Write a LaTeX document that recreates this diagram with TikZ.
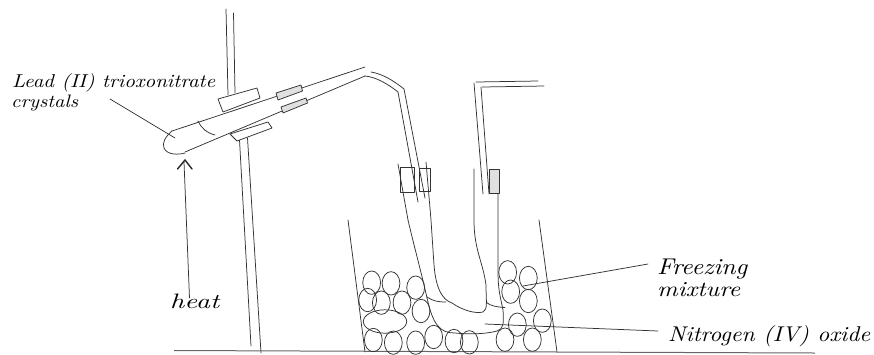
\documentclass[tikz,border=0pt]{standalone}
\newcommand{\lab}[3]{\resizebox{#1pt}{#2pt}{\itshape #3}}
\tikzset{
  ln/.style={draw=black!80,line width=0.75pt,line cap=round,line join=round},
  gl/.style={ln,fill=black!12},
  lbl/.style={inner sep=0pt,anchor=base west,text=black}
}
\begin{document}
\begin{tikzpicture}[x=1pt,y=-1pt]
\useasboundingbox (0,0) rectangle (874,354);
% labels
\node[lbl] (lead) at (12,87) {\lab{203}{14}{Lead (II) trioxonitrate}};
\node[lbl] (cry) at (11,107) {\lab{67}{12.5}{crystals}};
\node[lbl] (heat) at (170,308.5) {\lab{49}{14.5}{heat}};
\node[lbl] (frz) at (657,274) {\lab{90}{15.5}{Freezing}};
\node[lbl] (mix) at (657,296) {\lab{83}{14}{mixture}};
\node[lbl] (no2) at (668,341) {\lab{202}{16}{Nitrogen (IV) oxide}};
% stand
\draw[ln] (226,9) -- (228,95);
\draw[ln] (233.5,13) -- (235,93);
\draw[ln] (239.5,140) -- (251,346);
\draw[ln] (247.5,138) -- (261,353);
% clamps
\draw[ln,fill=white] (218,99) -- (257,88) -- (260,98) -- (223,112) -- cycle;
\draw[ln,fill=white] (230,134) -- (268,122) -- (272,128) -- (237,141) -- cycle;
% boiling tube
\draw[ln] (172,131) -- (365,67);
\draw[ln] (185,152) -- (365,76);
\draw[ln] (172,131) .. controls (165,137) and (162,143) .. (164,148) .. controls (167,155) and (178,155) .. (185,153);
\draw[ln] (198,121) .. controls (201,128) and (207,133) .. (215,135);
\draw[gl] (276,93) -- (301,85) -- (302.5,91) -- (278,100) -- cycle;
\draw[gl] (281,107) -- (306,98) -- (307.5,103) -- (283,113) -- cycle;
% delivery tube
\draw[ln] (371,72) .. controls (383,74) and (394,81) .. (404,89) -- (425,198);
\draw[ln] (365,76) .. controls (376,77) and (388,84) .. (398,92) -- (418,202);
\draw[ln] (400,167) rectangle (414,192);
\draw[ln] (419,168) rectangle (430,191);
% U-tube
\draw[ln] (398,164) -- (408,220) .. controls (415,250) and (422,275) .. (427,298) .. controls (433,325) and (440,333) .. (455,333) .. controls (475,335) and (490,333) .. (497,331) .. controls (503,329) and (504,325) .. (503,310) .. controls (500,295) and (498,290) .. (498,270) -- (498,193);
\draw[ln] (426,162) -- (431,220) -- (434,265) .. controls (436,290) and (443,300) .. (452,303) .. controls (462,310) and (475,314) .. (483,312) .. controls (488,310) and (486,300) .. (486,285) .. controls (483,262) and (474,250) .. (474,220) -- (474,169);
\draw[ln] (427,297) .. controls (433,301) and (438,302) .. (446,302);
\draw[ln] (486,302) .. controls (490,306) and (497,307) .. (505,307.5);
% right tube
\draw[ln] (474,83) -- (483,194);
\draw[ln] (481,87) -- (489,194);
\draw[ln] (476,82) -- (538,81);
\draw[ln] (482,87) -- (544,86);
\draw[gl] (489,169) rectangle (499,193);
% beaker and bench
\draw[ln] (348,220) -- (365,352);
\draw[ln] (539,220) -- (557,352);
\draw[draw=black!60,line width=1pt] (174,350.5) -- (815,353);
% ice
\foreach \zx/\zy in {125/218,183/220,257/233,113/270,154/278,216/278,273/303,130/390,190/398,257/398,311/381,372/393,418/397,533/187,595/204,542/245,595/273,562/344,637/332,525/389,607/389}
  \draw[ln] ({330+\zx/3},{210+\zy/3}) ellipse [x radius=8.9,y radius=11.7];
\draw[ln] (385,321.5) ellipse [x radius=21.7,y radius=11.7];
% leaders
\coordinate (a1) at (110,99);
\coordinate (a2) at (175,138);
\draw[ln] (a1) -- (a2);
\coordinate (h1) at (189.5,298);
\coordinate (h2) at (184,162);
\draw[ln] (h1) -- (h2);
\draw[black!85,line width=1.4pt,line cap=round,line join=miter] (177.5,169) -- (185,160) -- (192,169);
\coordinate (f1) at (523,286);
\coordinate (f2) at (648,264);
\draw[ln] (f1) -- (f2);
\coordinate (n1) at (485,324);
\coordinate (n2) at (658,331);
\draw[ln] (n1) -- (n2);
\end{tikzpicture}
\end{document}
